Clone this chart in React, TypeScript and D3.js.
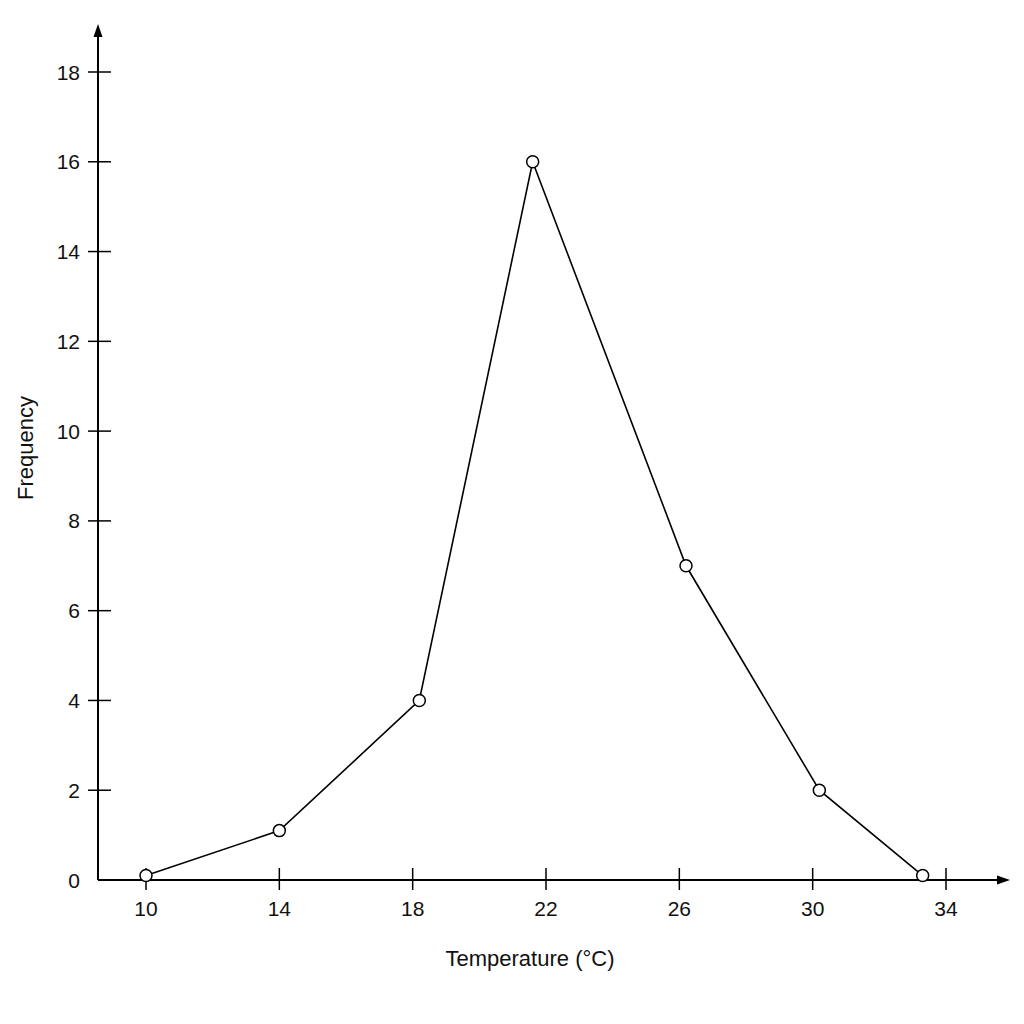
import React, { useRef, useEffect } from "react";
import * as d3 from "d3";

// values
const temperatures = [10, 14, 18.2, 21.6, 26.2, 30.2, 33.3];
const frequencies = [0.1, 1.1, 4, 16, 7, 2, 0.1];
const xTicks = [10, 14, 18, 22, 26, 30, 34];
const yTicks = [0, 2, 4, 6, 8, 10, 12, 14, 16, 18];

const FONT = "'Liberation Sans', Arial, sans-serif";

const App = () => {
  const svgRef = useRef<SVGSVGElement>(null);

  useEffect(() => {
    if (!svgRef.current) return;
    const svg = d3.select(svgRef.current);
    svg.selectAll("*").remove();

    const originX = 98;
    const originY = 880;
    const xEnd = 1010;
    const yEnd = 24;

    const xScale = d3.scaleLinear().domain([10, 34]).range([146, 946]);
    const yScale = d3.scaleLinear().domain([0, 18]).range([originY, 72]);

    svg
      .append("rect")
      .attr("width", 1024)
      .attr("height", 1024)
      .attr("fill", "#ffffff");

    // axes lines
    svg
      .append("line")
      .attr("x1", originX)
      .attr("y1", originY)
      .attr("x2", xEnd - 10)
      .attr("y2", originY)
      .attr("stroke", "#000")
      .attr("stroke-width", 2);

    svg
      .append("line")
      .attr("x1", originX)
      .attr("y1", originY)
      .attr("x2", originX)
      .attr("y2", yEnd + 10)
      .attr("stroke", "#000")
      .attr("stroke-width", 2);

    // arrow heads
    svg
      .append("path")
      .attr("d", `M${xEnd},${originY} L${xEnd - 13},${originY - 4.5} L${xEnd - 13},${originY + 4.5} Z`)
      .attr("fill", "#000");

    svg
      .append("path")
      .attr("d", `M${originX},${yEnd} L${originX - 4.5},${yEnd + 13} L${originX + 4.5},${yEnd + 13} Z`)
      .attr("fill", "#000");

    // x ticks
    const xt = svg.append("g");
    xt.selectAll("line")
      .data(xTicks)
      .enter()
      .append("line")
      .attr("x1", (d) => xScale(d))
      .attr("x2", (d) => xScale(d))
      .attr("y1", originY - 12)
      .attr("y2", originY + 10)
      .attr("stroke", "#000")
      .attr("stroke-width", 1.5);

    xt.selectAll("text")
      .data(xTicks)
      .enter()
      .append("text")
      .attr("x", (d) => xScale(d))
      .attr("y", 916)
      .attr("text-anchor", "middle")
      .style("font-family", FONT)
      .style("font-size", "21px")
      .style("fill", "#111")
      .text((d) => d);

    // y ticks
    const yt = svg.append("g");
    yt.selectAll("line")
      .data(yTicks.filter((d) => d > 0))
      .enter()
      .append("line")
      .attr("x1", originX - 10)
      .attr("x2", originX + 13)
      .attr("y1", (d) => yScale(d))
      .attr("y2", (d) => yScale(d))
      .attr("stroke", "#000")
      .attr("stroke-width", 1.5);

    yt.selectAll("text")
      .data(yTicks)
      .enter()
      .append("text")
      .attr("x", 80)
      .attr("y", (d) => yScale(d) + 7.5)
      .attr("text-anchor", "end")
      .style("font-family", FONT)
      .style("font-size", "21px")
      .style("fill", "#111")
      .text((d) => d);

    // axis titles
    svg
      .append("text")
      .attr("x", 530)
      .attr("y", 966)
      .attr("text-anchor", "middle")
      .style("font-family", FONT)
      .style("font-size", "22px")
      .style("fill", "#111")
      .text("Temperature (°C)");

    svg
      .append("text")
      .attr("transform", "translate(33,448) rotate(-90)")
      .attr("text-anchor", "middle")
      .style("font-family", FONT)
      .style("font-size", "22px")
      .style("fill", "#111")
      .text("Frequency");

    // polygon line
    const points: [number, number][] = temperatures.map((t, i) => [t, frequencies[i]]);
    const line = d3
      .line<[number, number]>()
      .x((d) => xScale(d[0]))
      .y((d) => yScale(d[1]));

    svg
      .append("path")
      .datum(points)
      .attr("d", line)
      .attr("fill", "none")
      .attr("stroke", "#000")
      .attr("stroke-width", 1.6);

    svg
      .selectAll("circle")
      .data(points)
      .enter()
      .append("circle")
      .attr("cx", (d) => xScale(d[0]))
      .attr("cy", (d) => yScale(d[1]))
      .attr("r", 6)
      .attr("fill", "#fff")
      .attr("stroke", "#000")
      .attr("stroke-width", 1.5);
  }, []);

  return (
    <div style={{ position: "absolute", left: 0, top: 0, width: 1024, height: 1024 }}>
      <svg ref={svgRef} width={1024} height={1024} style={{ display: "block" }}></svg>
    </div>
  );
};

export default App;
